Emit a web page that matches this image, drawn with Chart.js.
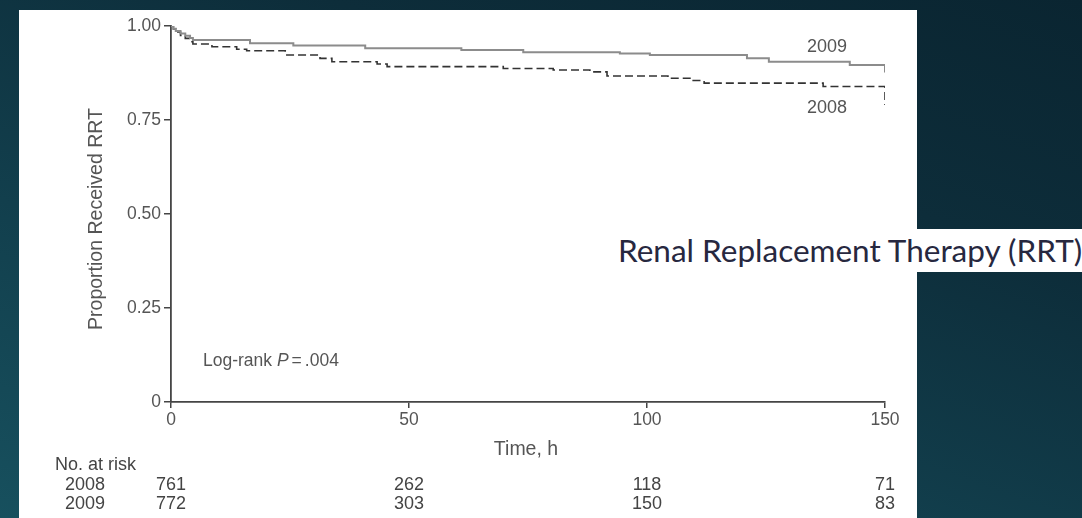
<!DOCTYPE html>
<html>
<head>
<meta charset="utf-8">
<script src="https://cdn.jsdelivr.net/npm/chart.js@4.4.0/dist/chart.umd.min.js"></script>
<style>
  html, body { margin: 0; padding: 0; }
  body {
    width: 1082px; height: 518px; overflow: hidden; position: relative;
    background: linear-gradient(20deg, #17505e 0%, #123f4d 35%, #0d2d3a 70%, #0a2531 100%);
  }
  #panel { position: absolute; left: 19px; top: 10px; width: 898px; height: 508px; background: #fff; }
  #wrap { position: absolute; left: 0; top: 0; width: 1082px; height: 518px; }
  #label {
    position: absolute; left: 600px; top: 229px; width: 482px; height: 43px; background: #fff;
    font-family: Lato, "Open Sans", sans-serif; font-size: 31.5px; color: #27283f;
    white-space: nowrap; line-height: 43px; padding-left: 18px; box-sizing: border-box;
  }
</style>
</head>
<body>
<div id="panel"></div>
<div id="wrap"><canvas id="km" width="1082" height="518"></canvas></div>
<div id="label">Renal Replacement Therapy (RRT)</div>
<script>
// Kaplan-Meier curves
const time2008 = [0, 0.5, 1, 2, 3, 4, 4.6, 8.6, 13.8, 15.9, 24, 31.3, 33.8, 43.3, 45.4, 69.8, 80.3, 88, 91.6, 104.4, 109.7, 112, 137, 150];
const surv2008 = [1.0, 0.992, 0.984, 0.975, 0.967, 0.958, 0.952, 0.945, 0.938, 0.934, 0.923, 0.914, 0.905, 0.899, 0.892, 0.887, 0.883, 0.878, 0.867, 0.861, 0.855, 0.848, 0.839, 0.79];
const time2009 = [0, 0.5, 1, 2, 3, 4, 4.6, 16.6, 25.7, 40.8, 61, 74, 94.3, 100.6, 121, 125.6, 142.6, 150];
const surv2009 = [1.0, 0.993, 0.987, 0.98, 0.974, 0.968, 0.963, 0.954, 0.948, 0.941, 0.936, 0.93, 0.927, 0.923, 0.914, 0.905, 0.896, 0.876];

const xTicks = [0, 50, 100, 150];
const yTicks = [0, 0.25, 0.5, 0.75, 1];
const yTickLabels = ["0", "0.25", "0.50", "0.75", "1.00"];

const riskRows = ["2008", "2009"];
const risk2008 = [761, 262, 118, 71];
const risk2009 = [772, 303, 150, 83];

const FONT = "'Liberation Sans', Arial, sans-serif";
const AXIS = "#454545";

// extra text: titles, curve labels, p value, number at risk table
const annotations = {
  id: "annotations",
  afterDraw(chart) {
    const { ctx, scales } = chart;
    const x = scales.x;
    ctx.save();
    ctx.fillStyle = "#555";
    ctx.textBaseline = "middle";

    // y title
    ctx.save();
    ctx.translate(97, 219);
    ctx.rotate(-Math.PI / 2);
    ctx.textAlign = "center";
    ctx.font = "19.5px " + FONT;
    ctx.fillText("Proportion Received RRT", 0, 0);
    ctx.restore();

    ctx.font = "19.5px " + FONT;
    ctx.textAlign = "center";
    ctx.fillText("Time, h", 526, 450);

    // curve labels
    ctx.font = "18px " + FONT;
    ctx.textAlign = "left";
    ctx.fillText("2009", 807, 47);
    ctx.fillText("2008", 807, 108);

    // log-rank
    let lx = 203;
    const ly = 361;
    ctx.font = "17.5px " + FONT;
    ctx.fillText("Log-rank ", lx, ly);
    lx += ctx.measureText("Log-rank ").width;
    ctx.font = "italic 17.5px " + FONT;
    ctx.fillText("P", lx, ly);
    lx += ctx.measureText("P").width + 3;
    ctx.font = "17.5px " + FONT;
    ctx.fillText("=", lx, ly);
    lx += ctx.measureText("=").width + 3;
    ctx.fillText(".004", lx, ly);

    // number at risk
    ctx.fillStyle = "#444";
    ctx.font = "18px " + FONT;
    ctx.fillText("No. at risk", 55, 465);
    const rowY = [485, 504];
    const rows = [risk2008, risk2009];
    rows.forEach((vals, r) => {
      ctx.textAlign = "left";
      ctx.fillText(riskRows[r], 65, rowY[r]);
      ctx.textAlign = "center";
      vals.forEach((v, i) => {
        ctx.fillText(String(v), x.getPixelForValue(xTicks[i]), rowY[r]);
      });
    });
    ctx.restore();
  }
};

const ctx = document.getElementById("km").getContext("2d");
new Chart(ctx, {
  type: "line",
  data: {
    datasets: [
      {
        label: "2009",
        data: time2009.map((t, i) => ({ x: t, y: surv2009[i] })),
        borderColor: "#8c8c8c",
        borderWidth: 2,
        stepped: true,
        pointRadius: 0,
      },
      {
        label: "2008",
        data: time2008.map((t, i) => ({ x: t, y: surv2008[i] })),
        borderColor: "#333",
        borderWidth: 1.6,
        borderDash: [8, 4],
        stepped: true,
        pointRadius: 0,
      },
    ],
  },
  options: {
    responsive: false,
    animation: false,
    layout: { padding: { left: 0, top: 26, right: 197, bottom: 0 } },
    plugins: { legend: { display: false }, tooltip: { enabled: false } },
    scales: {
      x: {
        type: "linear",
        min: 0,
        max: 150,
        afterFit: (s) => { s.height = 116; },
        afterBuildTicks: (s) => { s.ticks = xTicks.map((v) => ({ value: v })); },
        grid: { display: true, drawOnChartArea: false, drawTicks: true, tickLength: 6, color: AXIS, lineWidth: 1.5 },
        border: { display: true, color: AXIS, width: 1.8 },
        ticks: { color: "#555", font: { family: FONT, size: 17.5 }, padding: 2, maxRotation: 0 },
      },
      y: {
        type: "linear",
        min: 0,
        max: 1,
        afterFit: (s) => { s.width = 171; },
        afterBuildTicks: (s) => { s.ticks = yTicks.map((v) => ({ value: v })); },
        grid: { display: true, drawOnChartArea: false, drawTicks: true, tickLength: 7, color: AXIS, lineWidth: 1.5 },
        border: { display: true, color: AXIS, width: 1.8 },
        ticks: {
          color: "#555",
          font: { family: FONT, size: 17.5 },
          padding: 3,
          callback: (v, i) => yTickLabels[i],
        },
      },
    },
  },
  plugins: [annotations],
});
</script>
</body>
</html>
